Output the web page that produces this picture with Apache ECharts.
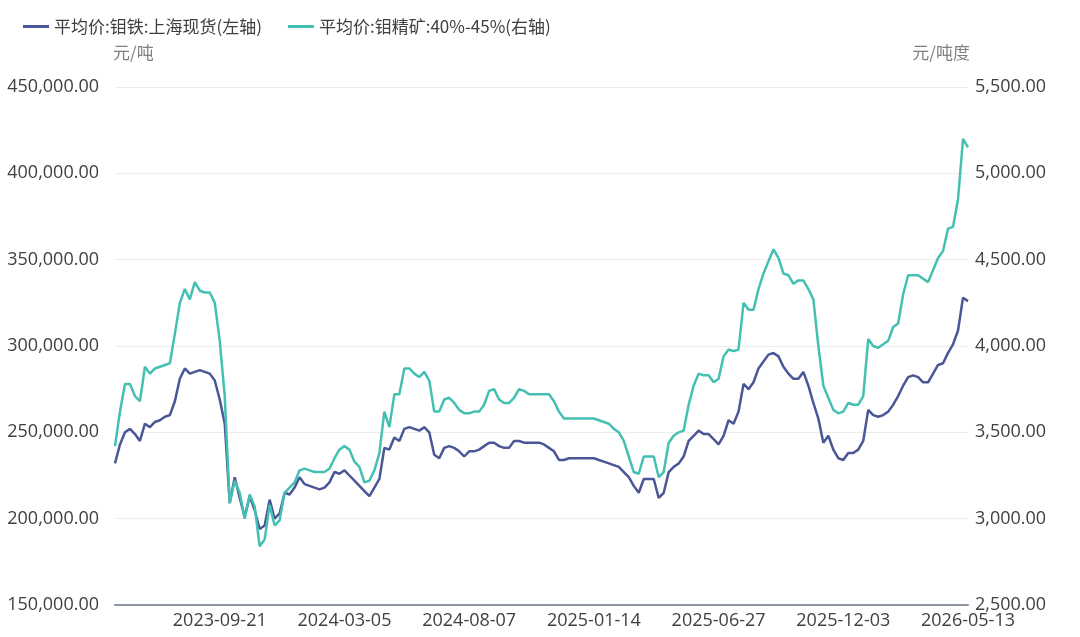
<!DOCTYPE html>
<html>
<head>
<meta charset="utf-8">
<script src="https://cdn.jsdelivr.net/npm/echarts@6/dist/echarts.min.js"></script>
<style>
  html, body { margin: 0; padding: 0; background: #fff; }
  #chart { width: 1080px; height: 637px; }
</style>
</head>
<body>
<div id="chart"></div>
<script>
  // 横轴刻度标签（每 25 个点一个）
  var tickLabels = ['2023-09-21', '2024-03-05', '2024-08-07', '2025-01-14', '2025-06-27', '2025-12-03', '2026-05-13']
  var firstTickIndex = 21
  var tickStep = 25

  // 平均价:钼铁:上海现货 (元/吨, 左轴)
  var moIron = [
    232000, 243000, 250000, 252000, 249000, 245000, 255000, 253000, 256000, 257000,
    259000, 260000, 268000, 281000, 287000, 284000, 285000, 286000, 285000, 284000,
    280000, 269000, 255000, 209000, 224000, 212000, 201000, 213000, 205000, 194000,
    196000, 211000, 200000, 203000, 215000, 214000, 218000, 224000, 220000, 219000,
    218000, 217000, 218000, 221000, 227000, 226000, 228000, 225000, 222000, 219000,
    216000, 213000, 218000, 223000, 241000, 240000, 247000, 245000, 252000, 253000,
    252000, 251000, 253000, 250000, 237000, 235000, 241000, 242000, 241000, 239000,
    236000, 239000, 239000, 240000, 242000, 244000, 244000, 242000, 241000, 241000,
    245000, 245000, 244000, 244000, 244000, 244000, 243000, 241000, 239000, 234000,
    234000, 235000, 235000, 235000, 235000, 235000, 235000, 234000, 233000, 232000,
    231000, 230000, 227000, 224000, 219000, 215000, 223000, 223000, 223000, 212000,
    215000, 227000, 230000, 232000, 236000, 245000, 248000, 251000, 249000, 249000,
    246000, 243000, 248000, 257000, 255000, 262000, 278000, 275000, 279000, 287000,
    291000, 295000, 296000, 294000, 288000, 284000, 281000, 281000, 285000, 277000,
    267000, 258000, 244000, 248000, 240000, 235000, 234000, 238000, 238000, 240000,
    245000, 263000, 260000, 259000, 260000, 262000, 266000, 271000, 277000, 282000,
    283000, 282000, 279000, 279000, 284000, 289000, 290000, 296000, 301000, 309000,
    328000, 326000
  ]

  // 平均价:钼精矿:40%-45% (元/吨度, 右轴)
  var moConc = [
    3420, 3620, 3780, 3780, 3710, 3680, 3880, 3840, 3870, 3880,
    3890, 3900, 4070, 4250, 4330, 4270, 4370, 4320, 4310, 4310,
    4250, 4030, 3710, 3090, 3220, 3150, 3000, 3140, 3070, 2840,
    2880, 3080, 2960, 2990, 3150, 3180, 3210, 3280, 3290, 3280,
    3270, 3270, 3270, 3290, 3350, 3400, 3420, 3400, 3330, 3300,
    3210, 3220, 3280, 3380, 3620, 3530, 3720, 3720, 3870, 3870,
    3840, 3820, 3850, 3800, 3620, 3620, 3690, 3700, 3670, 3630,
    3610, 3610, 3620, 3620, 3660, 3740, 3750, 3690, 3670, 3670,
    3700, 3750, 3740, 3720, 3720, 3720, 3720, 3720, 3680, 3620,
    3580, 3580, 3580, 3580, 3580, 3580, 3580, 3570, 3560, 3550,
    3520, 3500, 3450, 3360, 3270, 3260, 3360, 3360, 3360, 3240,
    3270, 3440, 3480, 3500, 3510, 3660, 3770, 3840, 3830, 3830,
    3790, 3810, 3940, 3980, 3970, 3980, 4250, 4210, 4210, 4330,
    4420, 4490, 4560, 4510, 4420, 4410, 4360, 4380, 4380, 4330,
    4270, 4000, 3770, 3700, 3630, 3610, 3620, 3670, 3660, 3660,
    3710, 4040, 4000, 3990, 4010, 4030, 4110, 4130, 4300, 4410,
    4410, 4410, 4390, 4370, 4440, 4510, 4550, 4680, 4690, 4850,
    5200, 5150
  ]

  var categories = []
  ;(function () {
    var dayMs = 86400000
    var anchors = tickLabels.map(function (s) { return new Date(s + 'T00:00:00Z').getTime() })
    for (var i = 0; i < moIron.length; i++) {
      var seg = Math.floor((i - firstTickIndex) / tickStep)
      if (seg < 0) seg = 0
      if (seg > anchors.length - 2) seg = anchors.length - 2
      var t0 = anchors[seg], t1 = anchors[seg + 1]
      var f = (i - firstTickIndex - seg * tickStep) / tickStep
      var t = Math.round((t0 + (t1 - t0) * f) / dayMs) * dayMs
      categories.push(new Date(t).toISOString().slice(0, 10))
    }
    tickLabels.forEach(function (s, j) { categories[firstTickIndex + j * tickStep] = s })
  })()

  function fmt2 (v) {
    return v.toLocaleString('en-US', { minimumFractionDigits: 2, maximumFractionDigits: 2 })
  }

  var font = '"Noto Sans CJK SC", "Noto Sans", sans-serif'
  var numFont = '"Open Sans", "Noto Sans CJK SC", sans-serif'
  var chart = echarts.init(document.getElementById('chart'))
  var option = {
    backgroundColor: '#ffffff',
    textStyle: { fontFamily: font },
    animation: false,
    color: ['#4a5696', '#44c0b2'],
    legend: {
      left: 18,
      top: 13,
      itemWidth: 26,
      itemHeight: 3,
      itemGap: 26,
      icon: 'rect',
      textStyle: { fontSize: 17, color: '#404040', fontFamily: font },
      data: ['平均价:钼铁:上海现货(左轴)', '平均价:钼精矿:40%-45%(右轴)']
    },
    grid: { left: 115, right: 112, top: 87, bottom: 32, containLabel: false },
    xAxis: {
      type: 'category',
      boundaryGap: false,
      data: categories,
      axisLine: { lineStyle: { color: '#8c96a2', width: 2 } },
      axisTick: { show: false },
      axisLabel: {
        interval: function (idx) {
          return idx >= firstTickIndex && (idx - firstTickIndex) % tickStep === 0
        },
        color: '#404040',
        fontSize: 18,
        margin: 7,
        fontFamily: numFont
      },
      splitLine: { show: false }
    },
    yAxis: [
      {
        type: 'value',
        name: '元/吨',
        nameGap: 26,
        nameTextStyle: { align: 'left', color: '#808080', fontSize: 17, padding: [0, 0, 0, -2] },
        min: 150000,
        max: 450000,
        interval: 50000,
        axisLine: { show: false },
        axisTick: { show: false },
        axisLabel: { formatter: fmt2, color: '#404040', fontSize: 18, margin: 16, fontFamily: numFont },
        splitLine: { lineStyle: { color: '#ececec', width: 1 } }
      },
      {
        type: 'value',
        name: '元/吨度',
        nameGap: 26,
        nameTextStyle: { align: 'right', color: '#808080', fontSize: 17, padding: [0, -2, 0, 0] },
        min: 2500,
        max: 5500,
        interval: 500,
        axisLine: { show: false },
        axisTick: { show: false },
        axisLabel: { formatter: fmt2, color: '#404040', fontSize: 18, margin: 7, fontFamily: numFont },
        splitLine: { show: false }
      }
    ],
    series: [
      {
        name: '平均价:钼铁:上海现货(左轴)',
        type: 'line',
        yAxisIndex: 0,
        symbol: 'none',
        data: moIron,
        lineStyle: { width: 2.5 }
      },
      {
        name: '平均价:钼精矿:40%-45%(右轴)',
        type: 'line',
        yAxisIndex: 1,
        symbol: 'none',
        data: moConc,
        lineStyle: { width: 2.5 }
      }
    ]
  }
  chart.setOption(option)
</script>
</body>
</html>
